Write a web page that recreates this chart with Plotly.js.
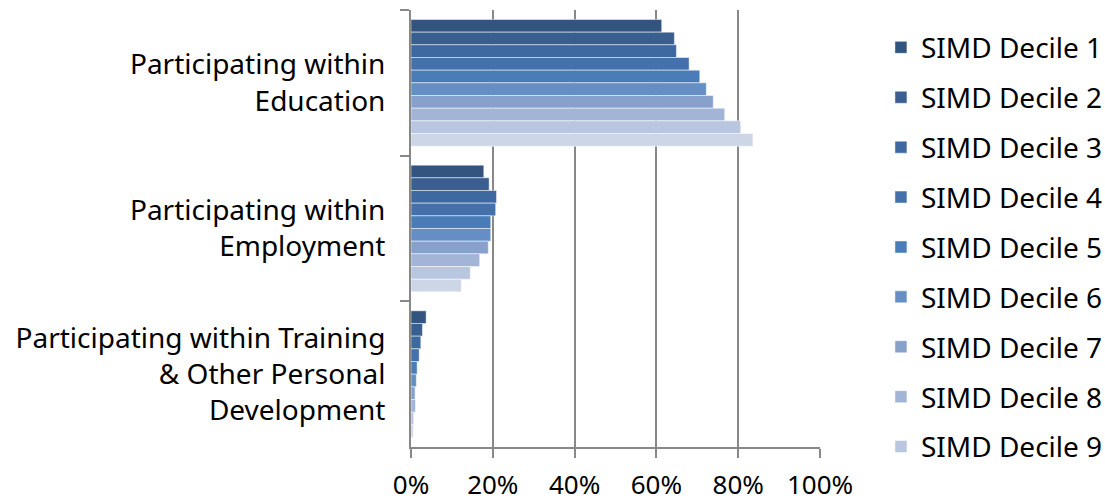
<!DOCTYPE html>
<html><head><meta charset="utf-8">
<script src="https://cdn.plot.ly/plotly-3.0.1.min.js"></script>
<style>html,body{margin:0;padding:0;background:#fff}#chart{width:1105px;height:501px}</style>
</head><body><div id="chart"></div>
<script>
const categories = [
  "Participating within<br>Education",
  "Participating within<br>Employment",
  "Participating within Training<br>& Other Personal<br>Development"
];
const seriesNames = ["SIMD Decile 1","SIMD Decile 2","SIMD Decile 3","SIMD Decile 4","SIMD Decile 5","SIMD Decile 6","SIMD Decile 7","SIMD Decile 8","SIMD Decile 9","SIMD Decile 10"];
const decile1 = [0.613, 0.178, 0.037];
const decile2 = [0.644, 0.191, 0.028];
const decile3 = [0.649, 0.209, 0.024];
const decile4 = [0.680, 0.207, 0.020];
const decile5 = [0.706, 0.195, 0.015];
const decile6 = [0.722, 0.195, 0.013];
const decile7 = [0.739, 0.189, 0.010];
const decile8 = [0.767, 0.168, 0.011];
const decile9 = [0.806, 0.145, 0.0065];
const decile10 = [0.836, 0.123, 0.0055];
const seriesValues = [decile1,decile2,decile3,decile4,decile5,decile6,decile7,decile8,decile9,decile10];
const colors = ["#33547E","#395E8F","#3E68A0","#4471AB","#4A7DB8","#658EC4","#87A1CA","#A2B5D7","#B9C6E0","#CDD6E7"];
const tickVals = [0,0.2,0.4,0.6,0.8,1.0];
const tickText = ["0%","20%","40%","60%","80%","100%"];

const FONT = "Noto Sans, Open Sans, sans-serif";
const traces = seriesNames.map((n,i)=>({
  type:"bar", orientation:"h", name:n, y:categories, x:seriesValues[i],
  marker:{color:colors[i], line:{color:"rgba(255,255,255,0.6)", width:0.8}},
  legendgroup:"g"+i, showlegend: i<9, hoverinfo:"none"
}));
const layout = {
  width:1105, height:501,
  margin:{l:411, r:285, t:10, b:54, autoexpand:false},
  barmode:"group", bargap:0.13, bargroupgap:0,
  paper_bgcolor:"#fff", plot_bgcolor:"#fff",
  font:{family:FONT, size:28, color:"#000"},
  xaxis:{range:[0,1], tickvals:tickVals, ticktext:tickText, showgrid:true, gridcolor:"#888", gridwidth:2,
    showline:true, linecolor:"#888", linewidth:2, ticks:"outside", ticklen:9, tickcolor:"#888", tickwidth:2,
    zeroline:false, mirror:false, tickfont:{family:FONT,size:26}, ticklabelstandoff:5},
  yaxis:{autorange:"reversed", showline:true, linecolor:"#888", linewidth:2, ticks:"outside", ticklen:9,
    tickcolor:"#888", tickwidth:2, tickson:"boundaries", showgrid:false, tickfont:{family:FONT,size:28}, ticklabelstandoff:18},
  legend:{x:1.149, xanchor:"left", xref:"paper", y:0.971, yanchor:"top", font:{family:FONT,size:28},
    tracegroupgap:10.5, itemwidth:30, traceorder:"grouped", bgcolor:"rgba(0,0,0,0)"},
  showlegend:true
};
Plotly.newPlot("chart", traces, layout, {staticPlot:true});
</script></body></html>
